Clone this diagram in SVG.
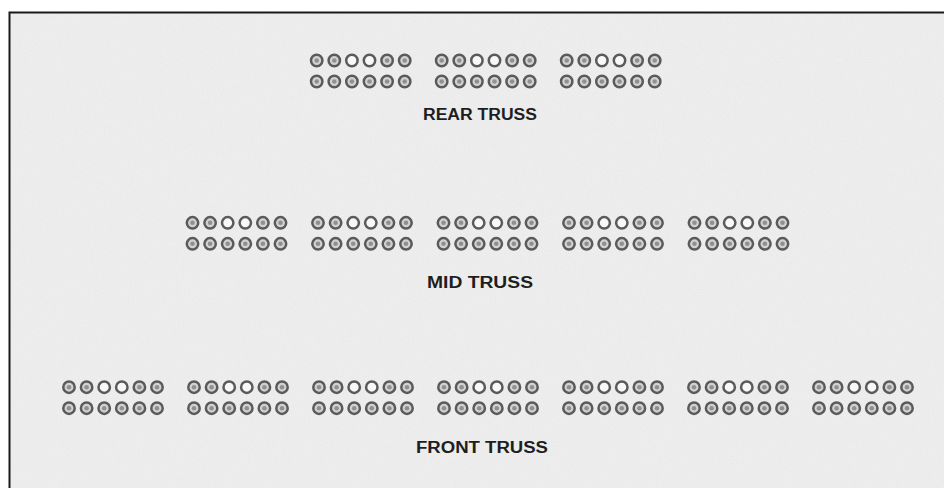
<svg xmlns="http://www.w3.org/2000/svg" xmlns:xlink="http://www.w3.org/1999/xlink" width="944" height="488" viewBox="0 0 944 488">
  <style>
    .ring { stroke: #5a5a5a; stroke-width: 2.5; }
    .full { fill: #d2d2d2; }
    .open { fill: #f8f8f8; }
    .dot { fill: #909090; }
    .label { font-family: "Liberation Sans", Arial, sans-serif; font-weight: bold; font-size: 16px; fill: #1e1e1e; }
  </style>
  <defs>
    <filter id="grain" x="0" y="0" width="100%" height="100%">
      <feTurbulence type="fractalNoise" baseFrequency="0.85" numOctaves="2" seed="7" result="n"/>
      <feColorMatrix in="n" type="saturate" values="0"/>
    </filter>
    <g id="f">
      <circle r="5.7" class="ring full"/>
      <circle r="2.3" class="dot"/>
    </g>
    <g id="o">
      <circle r="5.7" class="ring open"/>
    </g>
    <g id="grp">
      <use href="#f" x="0" y="0"/>
      <use href="#f" x="17.6" y="0"/>
      <use href="#o" x="35.2" y="0"/>
      <use href="#o" x="52.8" y="0"/>
      <use href="#f" x="70.4" y="0"/>
      <use href="#f" x="88" y="0"/>
      <use href="#f" x="0" y="21"/>
      <use href="#f" x="17.6" y="21"/>
      <use href="#f" x="35.2" y="21"/>
      <use href="#f" x="52.8" y="21"/>
      <use href="#f" x="70.4" y="21"/>
      <use href="#f" x="88" y="21"/>
    </g>
  </defs>

  <rect width="944" height="488" fill="#ffffff"/>
  <rect x="9" y="12" width="935" height="476" fill="#efefef"/>
  <rect x="9" y="12" width="935" height="476" filter="url(#grain)" opacity="0.1"/>
  <path d="M9.5,488 V12.5 H944" fill="none" stroke="#1a1a1a" stroke-width="2"/>

  <g id="rear-truss">
    <g id="rear-1"><use href="#grp" x="316.7" y="60.5"/></g>
    <g id="rear-2"><use href="#grp" x="441.7" y="60.5"/></g>
    <g id="rear-3"><use href="#grp" x="566.7" y="60.5"/></g>
    <text id="rear-label" class="label" x="423" y="120" textLength="114" lengthAdjust="spacingAndGlyphs">REAR TRUSS</text>
  </g>

  <g id="mid-truss">
    <g id="mid-1"><use href="#grp" x="192.5" y="222.8"/></g>
    <g id="mid-2"><use href="#grp" x="318" y="222.8"/></g>
    <g id="mid-3"><use href="#grp" x="443.5" y="222.8"/></g>
    <g id="mid-4"><use href="#grp" x="569" y="222.8"/></g>
    <g id="mid-5"><use href="#grp" x="694.5" y="222.8"/></g>
    <text id="mid-label" class="label" x="427" y="288" textLength="106" lengthAdjust="spacingAndGlyphs">MID TRUSS</text>
  </g>

  <g id="front-truss">
    <g id="front-1"><use href="#grp" x="69" y="387.2"/></g>
    <g id="front-2"><use href="#grp" x="194" y="387.2"/></g>
    <g id="front-3"><use href="#grp" x="319" y="387.2"/></g>
    <g id="front-4"><use href="#grp" x="444" y="387.2"/></g>
    <g id="front-5"><use href="#grp" x="569" y="387.2"/></g>
    <g id="front-6"><use href="#grp" x="694" y="387.2"/></g>
    <g id="front-7"><use href="#grp" x="819" y="387.2"/></g>
    <text id="front-label" class="label" x="416" y="452.5" textLength="132" lengthAdjust="spacingAndGlyphs">FRONT TRUSS</text>
  </g>
</svg>
